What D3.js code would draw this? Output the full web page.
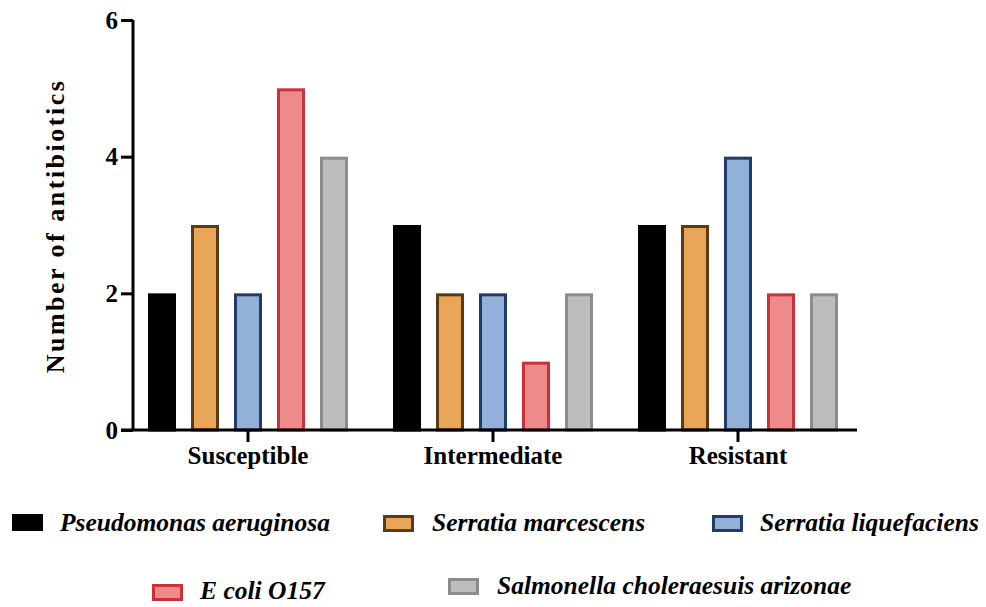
<!DOCTYPE html>
<html>
<head>
<meta charset="utf-8">
<script src="https://cdn.jsdelivr.net/npm/d3@7"></script>
<style>
  body { margin: 0; background: #fff; }
  svg text { font-family: "Times New Roman", "Liberation Serif", "DejaVu Serif", serif; }
</style>
</head>
<body>
<div id="chart"></div>
<script>
// data
var categories = ["Susceptible", "Intermediate", "Resistant"];
var seriesNames = ["Pseudomonas aeruginosa", "Serratia marcescens", "Serratia liquefaciens", "E coli O157", "Salmonella choleraesuis arizonae"];
var pseudomonas = [2, 3, 3];
var marcescens = [3, 2, 3];
var liquefaciens = [2, 2, 4];
var ecoli = [5, 1, 2];
var salmonella = [4, 2, 2];
var yTicks = [0, 2, 4, 6];

var seriesValues = [pseudomonas, marcescens, liquefaciens, ecoli, salmonella];
var fills = ["#000000", "#e9a558", "#93b0d8", "#ec8b89", "#bdbdbd"];
var strokes = ["#000000", "#5b3b16", "#213c68", "#c9323b", "#8c8c8c"];

var width = 986, height = 607;

var svg = d3.select("#chart").append("svg")
  .attr("width", width)
  .attr("height", height);

var x0 = d3.scaleBand().domain(categories).range([125.5, 860.5]).padding(0);
var x1 = d3.scaleBand().domain(seriesNames).range([-100, 100]).paddingInner(15 / 43).paddingOuter(0);
var y = d3.scaleLinear().domain([0, 6]).range([430, 20]);

var sw = 3;

// bars
seriesNames.forEach(function (name, s) {
  svg.append("g")
    .selectAll("rect")
    .data(seriesValues[s])
    .enter().append("rect")
    .attr("x", function (d, i) { return x0(categories[i]) + x0.bandwidth() / 2 + x1(name) + sw / 2; })
    .attr("y", function (d) { return y(d) + sw / 2; })
    .attr("width", x1.bandwidth() - sw)
    .attr("height", function (d) { return y(0) - y(d) - sw / 2; })
    .attr("fill", fills[s])
    .attr("stroke", strokes[s])
    .attr("stroke-width", sw);
});

// y axis
var yAxis = svg.append("g")
  .attr("transform", "translate(133,0)")
  .call(d3.axisLeft(y).tickValues(yTicks).tickSize(12).tickPadding(3).tickFormat(d3.format("d")));
yAxis.attr("font-family", null);
yAxis.select(".domain").attr("stroke-width", 3).attr("d", "M0," + y(6) + "V" + y(0));
yAxis.selectAll(".tick line").attr("stroke-width", 3);
yAxis.selectAll(".tick text")
  .attr("font-size", 25)
  .attr("font-weight", "bold")
  .attr("fill", "#000");

// x axis
var xAxis = svg.append("g")
  .attr("transform", "translate(0,430)")
  .call(d3.axisBottom(x0).tickSize(12).tickPadding(4));
xAxis.attr("font-family", null);
xAxis.select(".domain").attr("stroke-width", 3).attr("d", "M121,0H857");
xAxis.selectAll(".tick line").attr("stroke-width", 3);
xAxis.selectAll(".tick text")
  .attr("font-size", 25)
  .attr("font-weight", "bold")
  .attr("fill", "#000");

// y title
svg.append("text")
  .attr("transform", "translate(64,226) rotate(-90)")
  .attr("text-anchor", "middle")
  .attr("font-size", 26)
  .attr("font-weight", "bold")
  .attr("letter-spacing", 2.5)
  .text("Number of antibiotics");

// legend
var legendPos = [
  { sx: 12, sy: 514, ty: 531, tx: 60 },
  { sx: 383, sy: 515, ty: 531, tx: 432 },
  { sx: 712, sy: 515, ty: 531, tx: 760 },
  { sx: 152, sy: 584, ty: 599, tx: 200 },
  { sx: 448, sy: 578, ty: 594, tx: 497 }
];

var legend = svg.append("g");
seriesNames.forEach(function (name, s) {
  var p = legendPos[s];
  legend.append("rect")
    .attr("x", p.sx + sw / 2)
    .attr("y", p.sy + sw / 2)
    .attr("width", 31 - sw)
    .attr("height", 17 - sw)
    .attr("fill", fills[s])
    .attr("stroke", strokes[s])
    .attr("stroke-width", sw);
  legend.append("text")
    .attr("x", p.tx)
    .attr("y", p.ty)
    .attr("font-size", 25.5)
    .attr("font-weight", "bold")
    .attr("font-style", "italic")
    .text(name);
});
</script>
</body>
</html>
